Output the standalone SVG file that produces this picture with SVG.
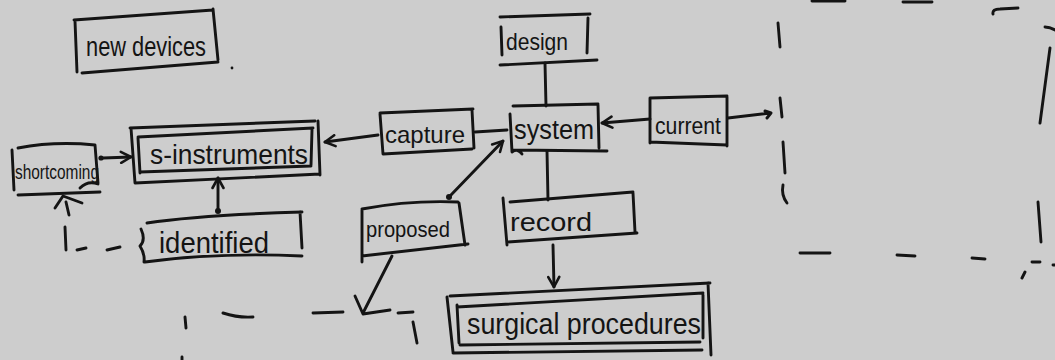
<svg xmlns="http://www.w3.org/2000/svg" width="1055" height="360" viewBox="0 0 1055 360">
  <style>
    .ink { fill: none; stroke: #141414; stroke-width: 2.9; stroke-linecap: round; stroke-linejoin: round; }
    .lbl { font-family: "Liberation Sans", Arial, sans-serif; fill: #141414; }
    .dot { fill: #141414; }
  </style>
  <defs>
    <marker id="open" viewBox="0 0 14 14" refX="12" refY="7" markerWidth="14" markerHeight="14" markerUnits="userSpaceOnUse" orient="auto">
      <path d="M2,1.5 L12,7 L2,12.5" fill="none" stroke="#141414" stroke-width="2.6" stroke-linecap="round" stroke-linejoin="round"/>
    </marker>
  </defs>

  <rect width="1055" height="360" fill="#cdcdcd"/>

  <!-- nodes -->
  <g id="new-devices">
    <path class="ink" d="M75,21 L77,72 M74,20 L213,10 M213,9 L218,60 M82,73 L218,62"/>
    <text class="lbl" x="86" y="56" font-size="27" textLength="120" lengthAdjust="spacingAndGlyphs">new devices</text>
  </g>
  <circle class="dot" cx="232" cy="68" r="1.4"/>

  <g id="s-instruments">
    <path class="ink" d="M130,128 L315,121 M131,128 L135,183 M318,121 L320,175 M135,183 L320,174"/>
    <path class="ink" d="M138,137 L313,128 M138,138 L140,173 M312,130 L311,165 M140,172 L311,166"/>
    <text class="lbl" x="150" y="164" font-size="28" textLength="158" lengthAdjust="spacingAndGlyphs">s-instruments</text>
  </g>

  <g id="shortcoming">
    <path class="ink" d="M12,150 L14,190 M18,148 Q55,141 95,145 M95,145 L98,183 M18,195 L100,192 M80,188 Q88,180 98,184"/>
    <text class="lbl" x="15" y="179" font-size="20" textLength="84" lengthAdjust="spacingAndGlyphs">shortcoming</text>
  </g>

  <g id="identified">
    <path class="ink" d="M147,223 Q200,215 302,212 M300,212 L302,248 M145,262 Q220,252 302,256 M141,229 Q146,240 140,246 Q145,254 144,262"/>
    <text class="lbl" x="159" y="253" font-size="30" textLength="110" lengthAdjust="spacingAndGlyphs">identified</text>
  </g>

  <g id="capture">
    <path class="ink" d="M380,114 L383,154 M380,113 L473,109 M472,110 L474,148 M383,154 L472,149"/>
    <text class="lbl" x="385" y="143" font-size="24" textLength="80" lengthAdjust="spacingAndGlyphs">capture</text>
  </g>

  <g id="design">
    <path class="ink" d="M501,27 L502,55 M500,17 L590,14 M588,18 L587,53 M500,65 L597,60"/>
    <text class="lbl" x="506" y="50" font-size="24" textLength="62" lengthAdjust="spacingAndGlyphs">design</text>
  </g>

  <g id="system">
    <path class="ink" d="M510,114 L512,152 M513,106 L598,104 M598,105 L599,148 M513,150 L607,151 M512,152 Q518,148 522,154"/>
    <text class="lbl" x="514" y="139" font-size="27" textLength="80" lengthAdjust="spacingAndGlyphs">system</text>
  </g>

  <g id="current">
    <path class="ink" d="M650,98 L650,143 M650,98 L727,96 M727,97 L727,146 M650,142 L727,145"/>
    <text class="lbl" x="655" y="134" font-size="24" textLength="66" lengthAdjust="spacingAndGlyphs">current</text>
  </g>

  <g id="proposed">
    <path class="ink" d="M362,210 L362,262 M362,209 Q410,200 458,202 M459,203 L465,245 M362,256 L468,244"/>
    <text class="lbl" x="366" y="237" font-size="22" textLength="84" lengthAdjust="spacingAndGlyphs">proposed</text>
  </g>

  <g id="record">
    <path class="ink" d="M503,198 L507,245 M510,202 L633,192 M633,193 L635,232 M507,242 L637,233"/>
    <text class="lbl" x="510" y="231" font-size="26" textLength="82" lengthAdjust="spacingAndGlyphs">record</text>
  </g>

  <g id="surgical-procedures">
    <path class="ink" d="M450,296 L710,283 M447,297 L453,352 M708,283 L711,355 M453,353 L702,350"/>
    <path class="ink" d="M457,307 L703,293 M457,305 L459,343 M703,295 L703,338 M460,345 L700,342"/>
    <text class="lbl" x="467" y="334" font-size="29" textLength="234" lengthAdjust="spacingAndGlyphs">surgical procedures</text>
  </g>

  <!-- connectors -->
  <g id="connectors">
    <!-- shortcoming to s-instruments -->
    <circle class="dot" cx="101" cy="158" r="2.6"/>
    <path class="ink" d="M103,158 L131,157" marker-end="url(#open)"/>
    <!-- identified to s-instruments -->
    <circle class="dot" cx="218" cy="211" r="3"/>
    <path class="ink" d="M218,210 L218,178" marker-end="url(#open)"/>
    <!-- identified back to shortcoming, dashed -->
    <path class="ink" d="M55,208 L63,196 L82,203 M66,202 L69,215 M65,227 L66,250 M77,250 L86,248 M107,250 L120,247"/>
    <!-- capture to s-instruments -->
    <path class="ink" d="M378,135 L325,142" marker-end="url(#open)"/>
    <!-- capture to system -->
    <path class="ink" d="M475,132 L507,130"/>
    <!-- design to system -->
    <path class="ink" d="M545,63 L546,106"/>
    <!-- current to system -->
    <path class="ink" d="M650,119 L602,123" marker-end="url(#open)"/>
    <!-- current outward -->
    <path class="ink" d="M728,118 L770,113 M765,111 L771,113 L767,118"/>
    <!-- system to record -->
    <path class="ink" d="M547,151 L548,200"/>
    <!-- record to surgical procedures -->
    <path class="ink" d="M553,245 L554,287" marker-end="url(#open)"/>
    <!-- proposed to system -->
    <circle class="dot" cx="449" cy="197" r="3"/>
    <path class="ink" d="M450,196 L503,141" marker-end="url(#open)"/>
    <!-- proposed downward -->
    <path class="ink" d="M392,256 L363,313 M355,296 L363,314 L390,310"/>
    <!-- lower dashed run -->
    <path class="ink" d="M185,317 L186,328 M223,313 Q238,318 253,317 M313,313 L343,312 M398,313 L413,312 M413,322 L417,343 M182,357 L182,360"/>
    <!-- right dashed region -->
    <path class="ink" d="M778,23 L780,47 M780,98 L782,117 M783,142 L785,173 M783,185 Q781,195 787,203"/>
    <path class="ink" d="M800,253 L830,253 M897,255 L915,256 M972,258 L985,259"/>
    <path class="ink" d="M1038,202 L1041,242 M1022,278 L1025,272 M1032,262 L1040,262 M1053,265 L1055,265"/>
    <path class="ink" d="M812,1 L845,1 M903,2 L932,2 M993,14 Q992,9 1000,9 L1018,8 M1045,27 Q1050,27 1055,30 M1050,48 L1040,123"/>
  </g>
</svg>
